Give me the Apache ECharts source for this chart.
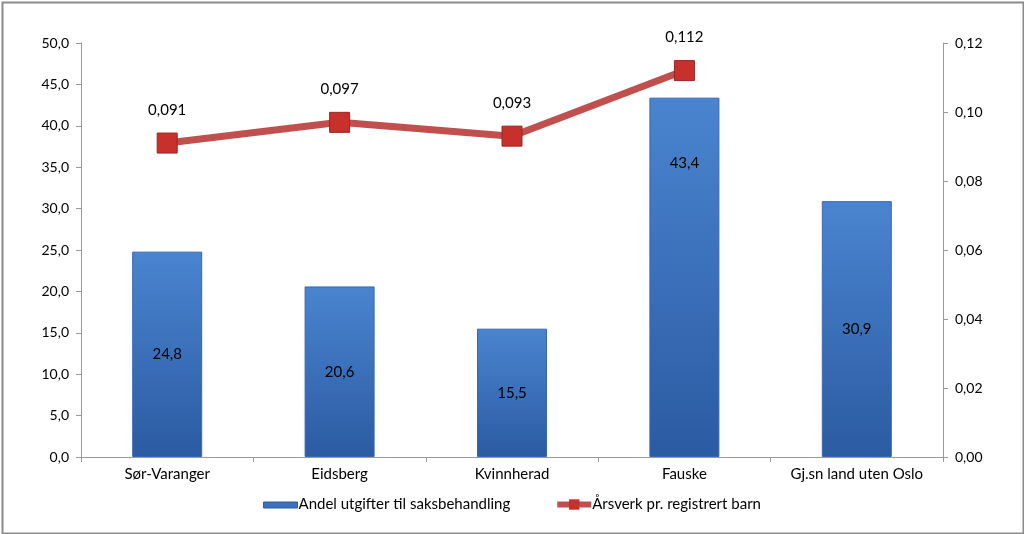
<!DOCTYPE html>
<html><head><meta charset="utf-8">
<script src="https://cdn.jsdelivr.net/npm/echarts@6/dist/echarts.min.js"></script>
<style>html,body{margin:0;padding:0;background:#fff}#c{width:1024px;height:534px}</style>
</head><body><div id="c"></div>
<script>
const categories = ['Sør-Varanger','Eidsberg','Kvinnherad','Fauske','Gj.sn land uten Oslo'];
const barValues = [24.8, 20.6, 15.5, 43.4, 30.9];
const lineValues = [0.091, 0.097, 0.093, 0.112, null];
const leftTicks = {min: 0, max: 50, interval: 5};
const rightTicks = {min: 0, max: 0.12, interval: 0.02};
const barName = 'Andel utgifter til saksbehandling';
const lineName = 'Årsverk pr. registrert barn';

const font = 'Lato, "Open Sans", sans-serif';
const chart = echarts.init(document.getElementById('c'), null, {renderer: 'canvas'});
const axisLine = {show: true, lineStyle: {color: '#9a9a9a', width: 1}};
// The tallest bar's label sits near the top of the bar in the reference
const barData = barValues.map((v, i) => i === 3
  ? {value: v, label: {position: 'insideTop', distance: 58}}
  : v);
chart.setOption({
  animation: false,
  backgroundColor: '#fff',
  textStyle: {fontFamily: font},
  graphic: [{type: 'rect', left: 0, top: 0, shape: {x: 1, y: 1, width: 1021, height: 531},
    style: {fill: 'none', stroke: '#8c8c8c', lineWidth: 2}, silent: true}],
  grid: {left: 81, right: 81, top: 43, bottom: 77, containLabel: false},
  legend: {
    bottom: 17, left: 'center', itemGap: 44, itemWidth: 34, itemHeight: 13,
    textStyle: {fontFamily: font, fontSize: 15, color: '#000', padding: [0, 0, 0, -4]},
    data: [
      {name: barName, icon: 'path://M0,0 L0.01,0 M0,4 h34 v6 h-34 z M34,13 L33.99,13',
       itemStyle: {color: '#3a70bd', borderColor: '#2b5ba2', borderWidth: 1}},
      {name: lineName, lineStyle: {width: 6}, itemStyle: {borderWidth: 0}},
    ]
  },
  xAxis: {
    type: 'category', data: categories,
    axisLine: axisLine,
    axisTick: {show: true, length: 5, lineStyle: {color: '#9a9a9a'}},
    axisLabel: {fontFamily: font, fontSize: 15, color: '#000', margin: 10}
  },
  yAxis: [
    {type: 'value', min: leftTicks.min, max: leftTicks.max, interval: leftTicks.interval,
     axisLine: axisLine, axisTick: {show: true, length: 5, lineStyle: {color: '#9a9a9a'}},
     splitLine: {show: false},
     axisLabel: {fontFamily: font, fontSize: 14, color: '#000', margin: 12,
       formatter: v => v.toFixed(1).replace('.', ',')}},
    {type: 'value', min: rightTicks.min, max: rightTicks.max, interval: rightTicks.interval,
     position: 'right',
     axisLine: axisLine, axisTick: {show: true, length: 5, lineStyle: {color: '#9a9a9a'}},
     splitLine: {show: false},
     axisLabel: {fontFamily: font, fontSize: 14, color: '#000', margin: 12,
       formatter: v => v.toFixed(2).replace('.', ',')}}
  ],
  series: [
    {
      name: barName, type: 'bar', yAxisIndex: 0, data: barData, barWidth: 70,
      itemStyle: {
        color: new echarts.graphic.LinearGradient(0, 0, 0, 1, [
          {offset: 0, color: '#4a84d0'}, {offset: 1, color: '#2b5ba2'}]),
        borderColor: '#3667b3', borderWidth: 1
      },
      label: {show: true, position: 'inside', fontFamily: font, fontSize: 15, color: '#000',
        formatter: p => p.value.toFixed(1).replace('.', ',')}
    },
    {
      name: lineName, type: 'line', yAxisIndex: 1, data: lineValues,
      symbol: 'rect', symbolSize: 20, connectNulls: false,
      lineStyle: {color: '#c0504d', width: 7},
      itemStyle: {color: '#c8302c', borderColor: '#962624', borderWidth: 1},
      label: {show: true, position: 'top', distance: 15, fontFamily: font, fontSize: 15, color: '#000',
        formatter: p => p.value.toFixed(3).replace('.', ',')}
    }
  ]
});
</script></body></html>
